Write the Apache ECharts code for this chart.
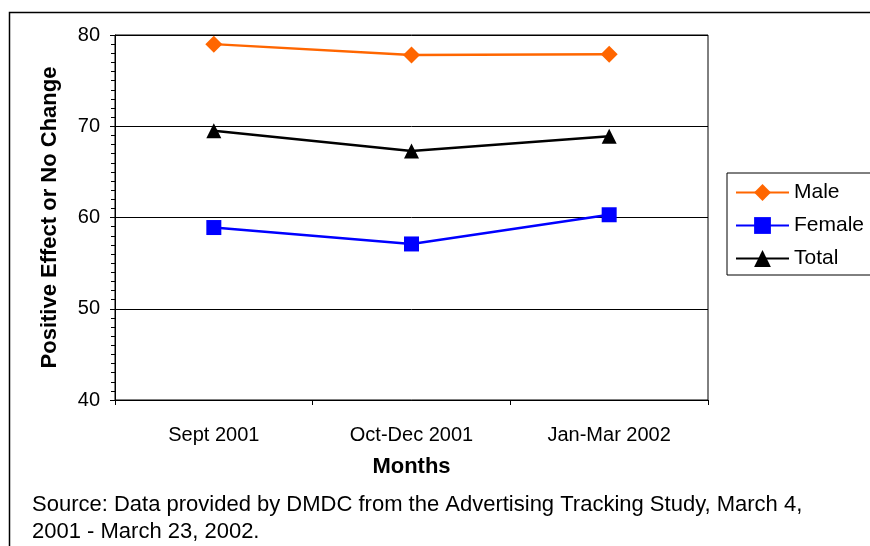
<!DOCTYPE html>
<html><head><meta charset="utf-8">
<script src="https://cdn.jsdelivr.net/npm/echarts@6/dist/echarts.min.js"></script>
<style>html,body{margin:0;padding:0;background:#fff}#c{width:870px;height:546px}</style>
</head><body><div id="c"></div>
<script>
var categories = ["Sept 2001", "Oct-Dec 2001", "Jan-Mar 2002"];
var male = [79.0, 77.8, 77.9];
var female = [58.9, 57.1, 60.3];
var total = [69.5, 67.3, 68.9];
var yTicks = [40, 50, 60, 70, 80];

var FONT = "Liberation Sans, Arial, sans-serif";
var chart = echarts.init(document.getElementById('c'), null, {renderer: 'canvas'});
function ser(name, data, color, symbol, size) {
  return {
    name: name, type: 'line', data: data, symbol: symbol, symbolSize: size,
    lineStyle: {color: color, width: 2.5}, itemStyle: {color: color},
    animation: false
  };
}
chart.setOption({
  animation: false,
  grid: {left: 115, right: 162, top: 35, bottom: 146, show: true, borderColor: '#000', borderWidth: 1},
  xAxis: {
    type: 'category', data: categories, boundaryGap: true,
    name: 'Months', nameLocation: 'middle', nameGap: 56,
    nameTextStyle: {fontFamily: FONT, fontSize: 22, fontWeight: 'bold', color: '#000'},
    axisLine: {lineStyle: {color: '#000', width: 1}},
    axisTick: {show: true, length: 5, lineStyle: {color: '#000'}},
    axisLabel: {fontFamily: FONT, fontSize: 20, color: '#000', margin: 25},
    splitLine: {show: false}
  },
  yAxis: {
    type: 'value', min: yTicks[0], max: yTicks[yTicks.length - 1], interval: 10,
    name: 'Positive Effect or No Change', nameLocation: 'middle', nameGap: 54,
    nameTextStyle: {fontFamily: FONT, fontSize: 22, fontWeight: 'bold', color: '#000'},
    axisLine: {show: true, lineStyle: {color: '#000', width: 1}},
    axisTick: {show: true, length: 5, lineStyle: {color: '#000'}},
    minorTick: {show: true, splitNumber: 10, length: 4, lineStyle: {color: '#000'}},
    axisLabel: {fontFamily: FONT, fontSize: 20, color: '#000', margin: 15},
    splitLine: {show: true, lineStyle: {color: '#000', width: 1}}
  },
  legend: {
    orient: 'vertical', left: 727, top: 173,
    data: ['Male', 'Female', 'Total'],
    itemWidth: 53, itemHeight: 21, itemGap: 12,
    padding: [9, 12, 6, 8],
    borderColor: '#000', borderWidth: 1, backgroundColor: '#fff',
    textStyle: {fontFamily: FONT, fontSize: 21, color: '#000'}
  },
  graphic: [
    {type: 'rect', left: 7, top: 10, shape: {width: 880, height: 560}, style: {fill: 'none', stroke: '#000', lineWidth: 1.5}, silent: true},
    {type: 'text', left: 32, top: 491, style: {text: 'Source: Data provided by DMDC from the Advertising Tracking Study, March 4,\n2001 - March 23, 2002.', fontFamily: FONT, fontSize: 22, lineHeight: 27, fill: '#000'}}
  ],
  series: [
    ser('Male', male, '#FF6600', 'diamond', 17),
    ser('Female', female, '#0000FF', 'rect', 15),
    ser('Total', total, '#000000', 'triangle', 15)
  ]
});
</script></body></html>
